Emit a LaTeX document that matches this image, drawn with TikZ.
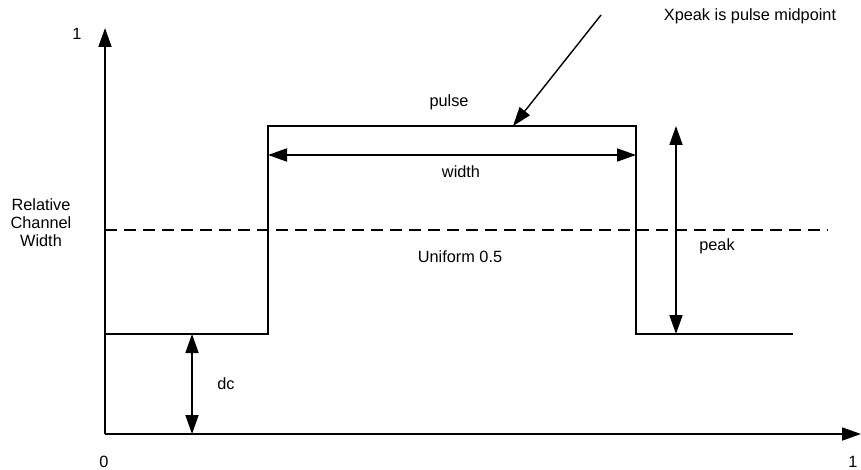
\documentclass[tikz,border=0pt]{standalone}
\usepackage{fontspec}
\setmainfont{Liberation Sans}
\usetikzlibrary{arrows.meta}
\begin{document}
\begin{tikzpicture}[x=1pt,y=-1pt,
  line width=1.8pt,
  tip/.style={-{Triangle[length=19pt,width=13pt]}},
  dtip/.style={{Triangle[length=19pt,width=13pt]}-{Triangle[length=19pt,width=13pt]}},
  lbl/.style={inner sep=0pt,font=\fontsize{16.3}{18}\selectfont,align=center}]
\useasboundingbox (0,0) rectangle (861,470);
% axes
\coordinate (O) at (105,434);
\coordinate (ytop) at (105,28);
\coordinate (xend) at (861,434);
\draw[tip] (O) -- (ytop);
\draw[tip] (O) -- (xend);
% pulse profile
\coordinate (p0) at (105,334);
\coordinate (p1) at (268,334);
\coordinate (p2) at (268,126);
\coordinate (p3) at (636,126);
\coordinate (p4) at (636,334);
\coordinate (p5) at (793,334);
\draw (p0) -- (p1) -- (p2) -- (p3) -- (p4) -- (p5);
% uniform level
\coordinate (u0) at (105,230);
\coordinate (u1) at (828,230);
\draw[dash pattern=on 12pt off 7pt] (u0) -- (u1);
% width dimension
\coordinate (w0) at (268,155);
\coordinate (w1) at (636,155);
\draw[dtip] (w0) -- (w1);
% peak dimension
\coordinate (k0) at (676,126);
\coordinate (k1) at (676,334);
\draw[dtip] (k0) -- (k1);
% dc dimension
\coordinate (d0) at (192,334);
\coordinate (d1) at (192,434);
\draw[dtip] (d0) -- (d1);
% midpoint pointer
\coordinate (m0) at (601,15);
\coordinate (m1) at (513,126);
\draw[tip,line width=1.4pt] (m0) -- (m1);
% labels
\node[lbl] (ytick) at (77,34) {1};
\node[lbl] (x0) at (104,462) {0};
\node[lbl] (x1) at (853,462) {1};
\node[lbl] (ylab) at (41,223) {Relative\\Channel\\Width};
\node[lbl] (pulse) at (449,102) {pulse};
\node[lbl] (width) at (461,172) {width};
\node[lbl] (unif) at (460,257) {Uniform 0.5};
\node[lbl] (peak) at (717,246) {peak};
\node[lbl] (dc) at (226,384) {dc};
\node[lbl] (xpeak) at (750,16) {Xpeak is pulse midpoint};
\end{tikzpicture}
\end{document}
